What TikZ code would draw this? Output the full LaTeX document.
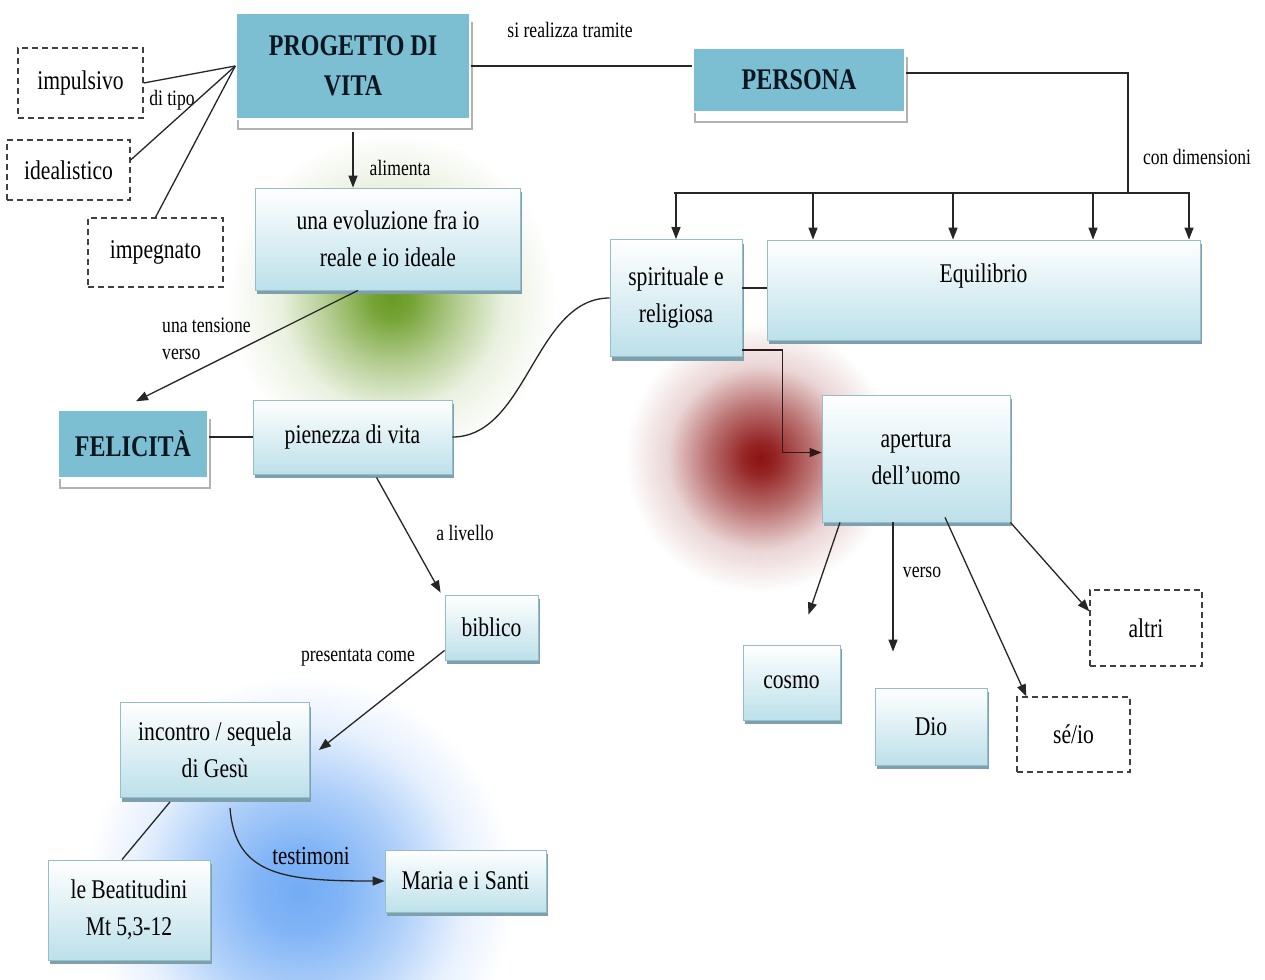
\documentclass[tikz,border=0pt]{standalone}
\usepackage{fontspec}
\setmainfont{Liberation Serif}[FakeStretch=0.8]
\usetikzlibrary{arrows.meta,shadows,calc,backgrounds}
\definecolor{teal1}{RGB}{124,190,210}
\definecolor{bbot}{RGB}{188,224,234}
\definecolor{bline}{RGB}{150,190,202}
\definecolor{bshad}{RGB}{125,160,172}
\definecolor{ggc}{RGB}{105,155,35}
\definecolor{rrc}{RGB}{140,18,18}
\definecolor{bbc}{RGB}{115,172,245}
\definecolor{ttext}{RGB}{12,22,32}
\definecolor{elb}{RGB}{50,25,25}
\pgfdeclareradialshading{glowg}{\pgfpoint{0bp}{0bp}}{color(0bp)=(ggc); color(3bp)=(ggc!92!white); color(10bp)=(ggc!50!white); color(17bp)=(ggc!14!white); color(25bp)=(white); color(50bp)=(white)}
\pgfdeclareradialshading{glowr}{\pgfpoint{0bp}{0bp}}{color(0bp)=(rrc); color(3bp)=(rrc!92!white); color(10bp)=(rrc!58!white); color(17bp)=(rrc!18!white); color(25bp)=(white); color(50bp)=(white)}
\pgfdeclareradialshading{glowb}{\pgfpoint{0bp}{0bp}}{color(0bp)=(bbc); color(5bp)=(bbc!90!white); color(12bp)=(bbc!58!white); color(19bp)=(bbc!18!white); color(25bp)=(white); color(50bp)=(white)}
\tikzset{
  every node/.style={inner sep=0pt},
  titlebox/.style={fill=teal1, draw=white, line width=1.5pt, text=ttext,
    font=\fontsize{30}{40}\selectfont\bfseries, align=center,
    general shadow={shadow xshift=2pt, shadow yshift=-10pt, fill=white, draw=black!30, line width=1.2pt}},
  bluebox/.style={top color=white, bottom color=bbot, draw=bline, line width=0.8pt,
    font=\fontsize{27}{37}\selectfont, align=center,
    general shadow={shadow xshift=1.5pt, shadow yshift=-4pt, fill=bshad}},
  dashbox/.style={draw=black!75, dash pattern=on 6pt off 4pt, line width=1.3pt, fill=white,
    font=\fontsize{27}{36}\selectfont, align=center},
  lbl/.style={font=\fontsize{22}{27}\selectfont},
  conn/.style={draw=black!85, line width=1.3pt},
  arr/.style={conn, -{Triangle[length=12pt,width=9pt]}},
}
\begin{document}
\begin{tikzpicture}[x=1pt,y=-1pt]
\useasboundingbox (0,0) rectangle (1265,979);
% nodes
\node[titlebox, minimum width=234, minimum height=106] (prog) at (353,66) {PROGETTO DI\\VITA};
\node[titlebox, minimum width=212, minimum height=64] (pers) at (799,80) {PERSONA};
\node[titlebox, minimum width=150, minimum height=68] (fel) at (133,444) {FELICITÀ};

\node[dashbox, minimum width=125, minimum height=70] (imp) at (80.5,83) {impulsivo};
\node[dashbox, minimum width=123, minimum height=60] (ide) at (68.5,170) {idealistico};
\node[dashbox, minimum width=135, minimum height=69] (impg) at (155.5,252.5) {impegnato};
\node[dashbox, minimum width=112, minimum height=76] (alt) at (1146,628) {altri};
\node[dashbox, minimum width=113, minimum height=75] (se) at (1073.5,734.5) {sé/io};

\node[bluebox, minimum width=265, minimum height=102] (evo) at (388,239) {una evoluzione fra io\\reale e io ideale};
\node[bluebox, minimum width=132, minimum height=117] (spir) at (676,298) {spirituale e\\religiosa};
\node[bluebox, minimum width=433, minimum height=100, text height=42, text depth=58] (eq) at (983.5,290) {Equilibrio};
\node[bluebox, minimum width=199, minimum height=74] (pie) at (352.5,437) {pienezza di vita};
\node[bluebox, minimum width=93, minimum height=65] (bib) at (491.5,627.5) {biblico};
\node[bluebox, minimum width=189, minimum height=95] (inc) at (215,750) {incontro / sequela\\di Gesù};
\node[bluebox, minimum width=162, minimum height=100] (beat) at (129,910) {le Beatitudini\\Mt 5,3-12};
\node[bluebox, minimum width=161, minimum height=62] (maria) at (465.5,881) {Maria e i Santi};
\node[bluebox, minimum width=188, minimum height=127] (ap) at (916,458.5) {apertura\\dell’uomo};
\node[bluebox, minimum width=97, minimum height=75] (cos) at (791.5,682.5) {cosmo};
\node[bluebox, minimum width=112, minimum height=77] (dio) at (931,726.5) {Dio};

% labels
\node[lbl] (l1) at (172,100) {di tipo};
\node[lbl] (l2) at (400,168) {alimenta};
\node[lbl, align=left, anchor=west] (l3) at (162,339) {una tensione\\verso};
\node[lbl] (l4) at (570,30) {si realizza tramite};
\node[lbl] (l5) at (1197,157) {con dimensioni};
\node[lbl] (l6) at (465,533) {a livello};
\node[lbl] (l7) at (358,658) {presentata come};
\node[lbl] (l8) at (922,572) {verso};
\node[lbl, font=\fontsize{26}{30}\selectfont] (l9) at (311,856) {testimoni};

% background glows
\begin{pgfonlayer}{background}
\fill[white] (0,0) rectangle (1265,979);
\shade[shading=glowg] (392,298) circle (165);
\shade[shading=glowr] (760,458) circle (135);
\shade[shading=glowb] (300,890) circle (215);
\end{pgfonlayer}

% connectors
\draw[conn] (prog.west) -- (imp.east);
\draw[conn] (prog.west) -- ([yshift=10pt]ide.east);
\draw[conn] (prog.west) -- (impg.north);
\draw[arr] ([yshift=-12pt]prog.south) -- (prog.south |- evo.north);
\draw[arr] ([xshift=-30pt]evo.south) -- ([xshift=3pt,yshift=8pt]fel.north);
\draw[conn] (fel.east |- pie.west) -- (pie.west);
\draw[conn] (pie.east) .. controls ([xshift=75pt]pie.east) and ([xshift=-75pt]spir.west) .. (spir.west);
\draw[arr] ([xshift=24pt,yshift=-3pt]pie.south) -- ([xshift=-4pt,yshift=2pt]bib.north west);
\draw[arr] ([yshift=10pt]bib.south west) -- ([xshift=9pt]inc.east);
\draw[conn] ([xshift=-45pt,yshift=-4pt]inc.south) -- ([xshift=-7pt]beat.north);
\draw[arr] ([xshift=15pt,yshift=-10pt]inc.south) .. controls ([xshift=20pt,yshift=-78pt]inc.south) and ([xshift=-100pt]maria.west) .. (maria.west);

\draw[conn] (prog.east) -- (prog.east -| pers.west);
\coordinate (bj) at (1128,193);
\coordinate (bl) at (674,193);
\coordinate (br) at (1190,193);
\coordinate (b1) at (813,193);
\coordinate (b2) at (953,193);
\coordinate (b3) at (1093,193);
\coordinate (b4) at (1189,193);
\draw[conn] ([yshift=7pt]pers.east) -| (bj);
\draw[conn] (bl) -- (br);
\draw[arr] (spir.north |- bl) -- (spir.north);
\draw[arr] (b1) -- (b1 |- eq.north);
\draw[arr] (b2) -- (b2 |- eq.north);
\draw[arr] (b3) -- (b3 |- eq.north);
\draw[arr] (b4) -- (b4 |- eq.north);
\draw[conn] ([yshift=10pt]spir.east) -- ([yshift=10pt]spir.east -| eq.west);
\draw[arr, draw=elb, line width=1.6pt] ([yshift=7pt]spir.south east) -- ++(40,0) |- ([yshift=6pt]ap.west);

\draw[arr] ([xshift=-76pt]ap.south) -- ([xshift=17pt,yshift=30pt]cos.north);
\draw[arr] ([xshift=-23pt]ap.south) -- ([xshift=-38pt,yshift=36pt]dio.north);
\draw[arr] ([xshift=29pt,yshift=5pt]ap.south) -- ([xshift=10pt]se.north west);
\draw[arr] (ap.south east) -- ([yshift=-22pt]alt.north west);
\end{tikzpicture}
\end{document}
